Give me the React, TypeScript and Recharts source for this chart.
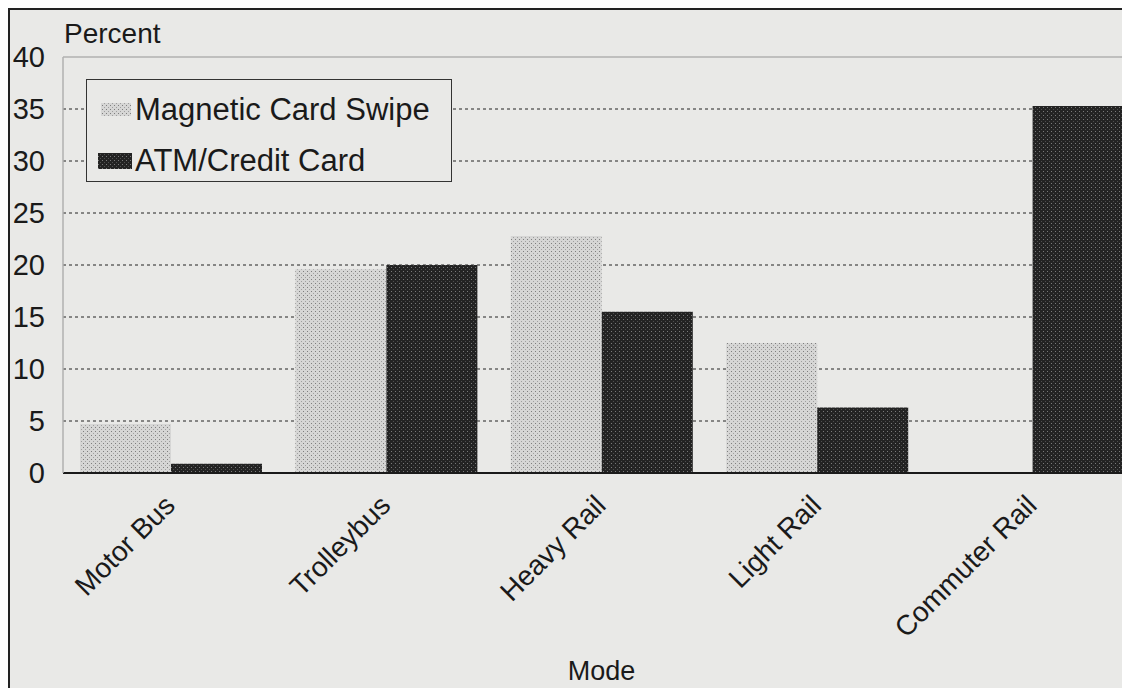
import { BarChart, Bar, XAxis, YAxis, CartesianGrid, Legend, ReferenceLine } from "recharts";

const modes = ["Motor Bus", "Trolleybus", "Heavy Rail", "Light Rail", "Commuter Rail"];
const magneticCardSwipe = [4.7, 19.6, 22.8, 12.5, 0];
const atmCreditCard = [0.9, 20.0, 15.5, 6.3, 35.3];
const yTicks = [0, 5, 10, 15, 20, 25, 30, 35, 40];
const gridValues = [5, 10, 15, 20, 25, 30, 35];

const data = modes.map((mode, i) => ({
  mode,
  magnetic: magneticCardSwipe[i],
  atm: atmCreditCard[i],
}));

const FONT = "'Liberation Sans', Arial, Helvetica, sans-serif";
const INK = "#1a1a1a";
const BG = "#e9e9e7";

const ModeTick = (props: any) => {
  const { x, y, payload } = props;
  return (
    <g transform={`translate(${x + 6},${y + 34})`}>
      <text
        x={0}
        y={0}
        textAnchor="end"
        transform="rotate(-45)"
        fontSize={28}
        fontFamily={FONT}
        fill={INK}
      >
        {payload.value}
      </text>
    </g>
  );
};

const PercentLabel = (props: any) => {
  const vb = props.viewBox || {};
  return (
    <text
      x={vb.x + vb.width + 1}
      y={vb.y - 14}
      fontSize={28}
      fontFamily={FONT}
      fill={INK}
    >
      Percent
    </text>
  );
};

const LegendBox = () => (
  <div
    style={{
      border: "1.5px solid #333",
      background: BG,
      width: 366,
      height: 103,
      boxSizing: "border-box",
      fontFamily: FONT,
      fontSize: 31,
      color: INK,
      paddingLeft: 10,
      paddingTop: 10,
    }}
  >
    <div style={{ display: "flex", alignItems: "center", height: 40 }}>
      <svg width={36} height={20} style={{ marginRight: 2 }}>
        <rect x={4} y={3} width={30} height={13} fill="url(#magDots)" />
      </svg>
      Magnetic Card Swipe
    </div>
    <div style={{ display: "flex", alignItems: "center", height: 40, marginTop: 11 }}>
      <svg width={36} height={20} style={{ marginRight: 2 }}>
        <rect x={1} y={2} width={34} height={16} fill="url(#atmDots)" />
      </svg>
      ATM/Credit Card
    </div>
  </div>
);

export default function App() {
  return (
    <div
      style={{
        width: 1122,
        height: 680,
        overflow: "hidden",
        background: BG,
        borderLeft: "2px solid #222",
        borderTop: "2px solid #222",
        boxSizing: "border-box",
        position: "relative",
      }}
    >
      <BarChart
        width={1150}
        height={678}
        data={data}
        margin={{ top: 47, right: 20, left: 0, bottom: 5 }}
        barCategoryGap={17}
        barGap={0}
      >
        <defs>
          <pattern id="magDots" width={4} height={4} patternUnits="userSpaceOnUse">
            <rect width={4} height={4} fill="#d6d6d5" />
            <rect x={1} y={1} width={1} height={1} fill="#7e7e7e" />
            <rect x={3} y={3} width={1} height={1} fill="#a0a0a0" />
          </pattern>
          <pattern id="atmDots" width={4} height={4} patternUnits="userSpaceOnUse">
            <rect width={4} height={4} fill="#232323" />
            <rect x={1} y={1} width={1} height={1} fill="#7a7a7a" />
            <rect x={3} y={3} width={1} height={1} fill="#4e4e4e" />
          </pattern>
        </defs>
        <CartesianGrid
          vertical={false}
          horizontalValues={gridValues}
          stroke="#222"
          strokeDasharray="3 3"
          strokeWidth={1}
        />
        <ReferenceLine y={40} stroke="#b0b0b0" strokeWidth={1.5} />
        <XAxis
          dataKey="mode"
          height={210}
          interval={0}
          tickLine={false}
          tickSize={0}
          tickMargin={0}
          axisLine={{ stroke: INK, strokeWidth: 2 }}
          tick={<ModeTick />}
          label={{
            value: "Mode",
            position: "insideBottom",
            offset: 3,
            fontSize: 27,
            fontFamily: FONT,
            fill: INK,
          }}
        />
        <YAxis
          width={53}
          domain={[0, 40]}
          ticks={yTicks}
          interval={0}
          tickLine={false}
          tickSize={0}
          tickMargin={18}
          axisLine={{ stroke: "#b0b0b0", strokeWidth: 1.5 }}
          tick={{ fontSize: 29, fontFamily: FONT, fill: INK }}
          label={<PercentLabel />}
        />
        <Legend
          layout="horizontal"
          verticalAlign="middle"
          align="center"
          width={366}
          wrapperStyle={{ left: 76, top: 69, width: 366, height: 103 }}
          content={<LegendBox />}
        />
        <Bar dataKey="magnetic" name="Magnetic Card Swipe" fill="url(#magDots)" isAnimationActive={false} />
        <Bar dataKey="atm" name="ATM/Credit Card" fill="url(#atmDots)" isAnimationActive={false} />
      </BarChart>
    </div>
  );
}
